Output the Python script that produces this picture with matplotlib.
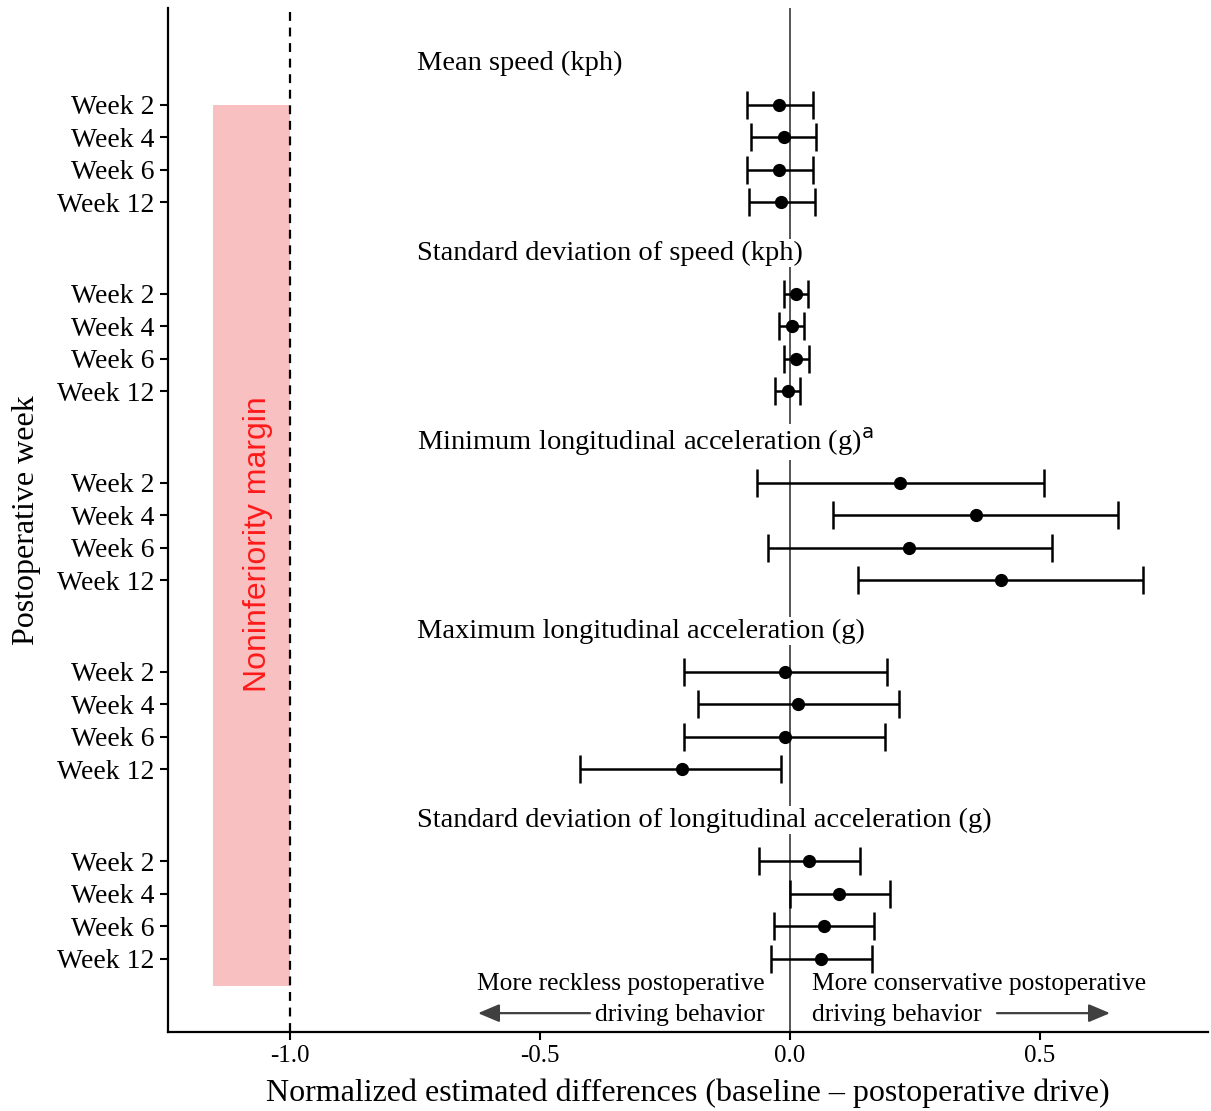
import matplotlib
matplotlib.use("Agg")
import matplotlib.pyplot as plt
import numpy as np

# ---- data ----
measures = ["Mean speed (kph)",
            "Standard deviation of speed (kph)",
            r"Minimum longitudinal acceleration (g)$^{\mathrm{a}}$",
            "Maximum longitudinal acceleration (g)",
            "Standard deviation of longitudinal acceleration (g)"]
weeks = ["Week 2", "Week 4", "Week 6", "Week 12"]

est_mean_speed = [-0.023, -0.012, -0.023, -0.018]
lo_mean_speed = [-0.087, -0.078, -0.087, -0.083]
hi_mean_speed = [0.045, 0.052, 0.045, 0.049]

est_sd_speed = [0.011, 0.003, 0.011, -0.005]
lo_sd_speed = [-0.013, -0.022, -0.013, -0.030]
hi_sd_speed = [0.035, 0.028, 0.037, 0.020]

est_min_acc = [0.220, 0.372, 0.237, 0.422]
lo_min_acc = [-0.067, 0.085, -0.045, 0.135]
hi_min_acc = [0.508, 0.655, 0.523, 0.705]

est_max_acc = [-0.011, 0.015, -0.011, -0.217]
lo_max_acc = [-0.213, -0.185, -0.213, -0.421]
hi_max_acc = [0.193, 0.217, 0.189, -0.018]

est_sd_acc = [0.037, 0.098, 0.067, 0.061]
lo_sd_acc = [-0.062, 0.000, -0.033, -0.038]
hi_sd_acc = [0.139, 0.200, 0.167, 0.163]

estimates = [est_mean_speed, est_sd_speed, est_min_acc, est_max_acc, est_sd_acc]
lowers = [lo_mean_speed, lo_sd_speed, lo_min_acc, lo_max_acc, lo_sd_acc]
uppers = [hi_mean_speed, hi_sd_speed, hi_min_acc, hi_max_acc, hi_sd_acc]

margin = -1.0
margin_left = -1.154
xticks = [-1.0, -0.5, 0.0, 0.5]

plt.rcParams['font.family'] = ['Liberation Serif', 'DejaVu Serif']
plt.rcParams['mathtext.fontset'] = 'dejavusans'

fig = plt.figure(figsize=(12.11, 11.11), dpi=100)
ax = fig.add_axes([168/1211, 1 - 1032/1111, (1208-168)/1211, (1032-8)/1111])

# layout in row units
group_step = 5.815
header_off = 1.72
row_off = 2.98

ytick_pos, ytick_lab = [], []
for g, name in enumerate(measures):
    hy = header_off + g * group_step
    ys = [row_off + g * group_step + i for i in range(len(weeks))]
    est = np.array(estimates[g]); lo = np.array(lowers[g]); hi = np.array(uppers[g])
    ax.errorbar(est, ys, xerr=[est - lo, hi - est], fmt='o', color='black',
                ms=8.5, elinewidth=1.8, capsize=10, capthick=1.8, zorder=5)
    ax.text(-0.746, hy, name, ha='left', va='center', fontsize=20.5,
            bbox=dict(facecolor='white', edgecolor='none', pad=1), zorder=4)
    ytick_pos += ys
    ytick_lab += weeks

ax.axvline(0, color='#555555', lw=1.4, zorder=1)
ax.axvline(margin, color='black', lw=1.6, ls=(0, (4, 3)), zorder=2)

top_row = row_off
bot_row = row_off + 4 * group_step + 3 + 0.86
ax.fill_betweenx([top_row, bot_row], margin_left, margin, color='#f9c0c2', lw=0, zorder=0)
ax.text(-1.064, 16.5, "Noninferiority margin", rotation=90,
        ha='center', va='center', color='#ff1a1a', fontsize=23, family='Liberation Sans')

# arrows and direction text
arr_y = 30.92
ap = dict(arrowstyle='-|>,head_length=1.3,head_width=0.55', color='#404040', lw=1.6,
          shrinkA=0, shrinkB=0)
ax.annotate("", xy=(-0.624, arr_y), xytext=(-0.40, arr_y), arrowprops=ap)
ax.annotate("", xy=(0.64, arr_y), xytext=(0.414, arr_y), arrowprops=ap)
ax.text(-0.05, 30.50, "More reckless postoperative\ndriving behavior", ha='right', va='center',
        multialignment='right', fontsize=18.4, linespacing=1.5)
ax.text(0.044, 30.50, "More conservative postoperative\ndriving behavior", ha='left', va='center',
        multialignment='left', fontsize=18.4, linespacing=1.5)

ax.set_xlim(-1.244, 0.836)
ax.set_ylim(31.5, 0)
ax.set_yticks(ytick_pos)
ax.set_yticklabels(ytick_lab, fontsize=20)
ax.set_xticks(xticks)
ax.set_xticklabels([f"{v:.1f}" for v in xticks], fontsize=18)
ax.tick_params(direction='out', length=6, width=1.5, colors='black')
for s in ['top', 'right']:
    ax.spines[s].set_visible(False)
for s in ['left', 'bottom']:
    ax.spines[s].set_linewidth(1.6)

ax.set_xlabel("Normalized estimated differences (baseline \u2013 postoperative drive)", fontsize=23, labelpad=8)
ax.set_ylabel("Postoperative week", fontsize=23, labelpad=12)

fig.savefig("out.png", dpi=100)
